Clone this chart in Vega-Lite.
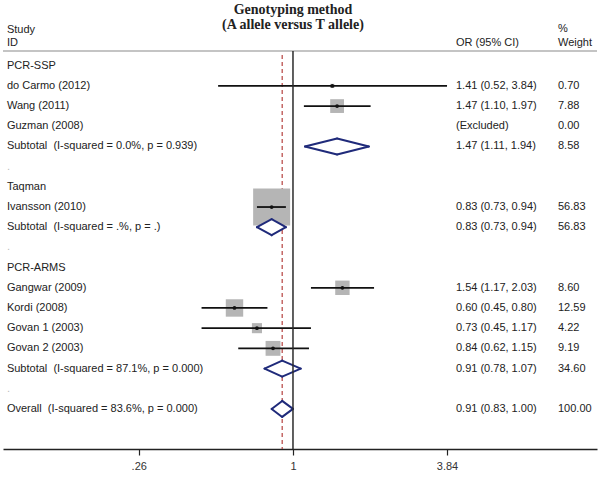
{
  "$schema": "https://vega.github.io/schema/vega-lite/v6.json",
  "width": 594,
  "height": 449,
  "autosize": {"type": "none"},
  "padding": {"left": 3, "right": 3, "top": 0, "bottom": 28},
  "background": "white",
  "config": {
    "view": {"stroke": null},
    "text": {"font": "Liberation Sans", "fontSize": 11, "color": "#222222"}
  },
  "datasets": {
    "rows": [
      {"row": 0, "label": "PCR-SSP", "type": "group"},
      {"row": 1, "label": "do Carmo (2012)", "type": "study", "or": 1.41, "lo": 0.52, "hi": 3.84, "w": 0.70, "ortext": "1.41 (0.52, 3.84)", "wtext": "0.70"},
      {"row": 2, "label": "Wang (2011)", "type": "study", "or": 1.47, "lo": 1.10, "hi": 1.97, "w": 7.88, "ortext": "1.47 (1.10, 1.97)", "wtext": "7.88"},
      {"row": 3, "label": "Guzman (2008)", "type": "excluded", "ortext": "(Excluded)", "wtext": "0.00"},
      {"row": 4, "label": "Subtotal\u00a0 (I-squared = 0.0%, p = 0.939)", "type": "subtotal", "or": 1.47, "lo": 1.11, "hi": 1.94, "w": 8.58, "ortext": "1.47 (1.11, 1.94)", "wtext": "8.58"},
      {"row": 5, "label": ".", "type": "dot"},
      {"row": 6, "label": "Taqman", "type": "group"},
      {"row": 7, "label": "Ivansson (2010)", "type": "study", "or": 0.83, "lo": 0.73, "hi": 0.94, "w": 56.83, "ortext": "0.83 (0.73, 0.94)", "wtext": "56.83"},
      {"row": 8, "label": "Subtotal\u00a0 (I-squared = .%, p = .)", "type": "subtotal", "or": 0.83, "lo": 0.73, "hi": 0.94, "w": 56.83, "ortext": "0.83 (0.73, 0.94)", "wtext": "56.83"},
      {"row": 9, "label": ".", "type": "dot"},
      {"row": 10, "label": "PCR-ARMS", "type": "group"},
      {"row": 11, "label": "Gangwar (2009)", "type": "study", "or": 1.54, "lo": 1.17, "hi": 2.03, "w": 8.60, "ortext": "1.54 (1.17, 2.03)", "wtext": "8.60"},
      {"row": 12, "label": "Kordi (2008)", "type": "study", "or": 0.60, "lo": 0.45, "hi": 0.80, "w": 12.59, "ortext": "0.60 (0.45, 0.80)", "wtext": "12.59"},
      {"row": 13, "label": "Govan 1 (2003)", "type": "study", "or": 0.73, "lo": 0.45, "hi": 1.17, "w": 4.22, "ortext": "0.73 (0.45, 1.17)", "wtext": "4.22"},
      {"row": 14, "label": "Govan 2 (2003)", "type": "study", "or": 0.84, "lo": 0.62, "hi": 1.15, "w": 9.19, "ortext": "0.84 (0.62, 1.15)", "wtext": "9.19"},
      {"row": 15, "label": "Subtotal\u00a0 (I-squared = 87.1%, p = 0.000)", "type": "subtotal", "or": 0.91, "lo": 0.78, "hi": 1.07, "w": 34.60, "ortext": "0.91 (0.78, 1.07)", "wtext": "34.60"},
      {"row": 16, "label": ".", "type": "dot"},
      {"row": 17, "label": "Overall\u00a0 (I-squared = 83.6%, p = 0.000)", "type": "overall", "or": 0.91, "lo": 0.83, "hi": 1.00, "w": 100.00, "ortext": "0.91 (0.83, 1.00)", "wtext": "100.00"}
    ]
  },
  "data": {"name": "rows"},
  "resolve": {"scale": {"size": "independent"}, "axis": {"x": "independent"}},
  "layer": [
    {
      "data": {"values": [{}]},
      "mark": {"type": "rule", "color": "#c4c4c4", "strokeWidth": 2},
      "encoding": {
        "y": {"datum": -0.728, "type": "quantitative", "scale": {"domain": [-3.254, 18.985], "reverse": true, "nice": false, "zero": false}, "axis": null}
      }
    },
    {
      "data": {"values": [{}]},
      "mark": {"type": "rule", "color": "#b5413f", "strokeWidth": 1.2, "strokeDash": [4, 3]},
      "encoding": {
        "x": {"datum": 0.91, "type": "quantitative", "scale": {"type": "log", "domain": [0.07944, 14.23], "nice": false}, "axis": null},
        "y": {"datum": -0.53, "type": "quantitative", "axis": null},
        "y2": {"datum": 18.985}
      }
    },
    {
      "transform": [{"filter": "datum.type == 'study'"}],
      "mark": {"type": "point", "shape": "square", "filled": true, "color": "#b5b5b5", "opacity": 1},
      "encoding": {
        "x": {"field": "or", "type": "quantitative", "axis": null},
        "y": {"field": "row", "type": "quantitative", "axis": null},
        "size": {"field": "w", "type": "quantitative", "scale": {"domain": [0, 56.83], "range": [0, 1369], "zero": true}, "legend": null}
      }
    },
    {
      "transform": [{"filter": "datum.type == 'study'"}],
      "mark": {"type": "rule", "color": "#111111", "strokeWidth": 1.8},
      "encoding": {
        "x": {"field": "lo", "type": "quantitative", "scale": {"type": "log", "domain": [0.07944, 14.23], "nice": false},
          "axis": {"values": [0.26, 1, 3.84], "labelExpr": "datum.value < 0.5 ? '.26' : (datum.value < 2 ? '1' : '3.84')", "title": null, "grid": false, "domainColor": "#222222", "domainWidth": 1.5, "tickColor": "#222222", "tickSize": 6, "tickWidth": 1.2, "labelFont": "Liberation Sans", "labelFontSize": 11, "labelColor": "#333333", "labelPadding": 5, "labelFlush": false, "labelOverlap": false}},
        "x2": {"field": "hi"},
        "y": {"field": "row", "type": "quantitative", "axis": null}
      }
    },
    {
      "transform": [{"filter": "datum.type == 'study'"}],
      "mark": {"type": "point", "shape": "circle", "filled": true, "color": "#111111", "opacity": 1, "size": 14},
      "encoding": {
        "x": {"field": "or", "type": "quantitative", "axis": null},
        "y": {"field": "row", "type": "quantitative", "axis": null}
      }
    },
    {
      "transform": [{"filter": "datum.type == 'subtotal' || datum.type == 'overall'"}, {"fold": ["lo", "or"], "as": ["kl", "v"]}],
      "mark": {"type": "trail", "color": "white"},
      "encoding": {
        "x": {"field": "v", "type": "quantitative", "axis": null},
        "y": {"field": "row", "type": "quantitative", "axis": null},
        "detail": {"field": "row"},
        "size": {"field": "kl", "type": "nominal", "scale": {"type": "point", "domain": ["lo", "or"], "range": [0, 16], "padding": 0}, "legend": null}
      }
    },
    {
      "transform": [{"filter": "datum.type == 'subtotal' || datum.type == 'overall'"}, {"fold": ["or", "hi"], "as": ["kr", "v"]}],
      "mark": {"type": "trail", "color": "white"},
      "encoding": {
        "x": {"field": "v", "type": "quantitative", "axis": null},
        "y": {"field": "row", "type": "quantitative", "axis": null},
        "detail": {"field": "row"},
        "size": {"field": "kr", "type": "nominal", "scale": {"type": "point", "domain": ["hi", "or"], "range": [0, 16], "padding": 0}, "legend": null}
      }
    },
    {
      "transform": [{"filter": "datum.type == 'subtotal' || datum.type == 'overall'"}],
      "mark": {"type": "rule", "color": "#1f2a7a", "strokeWidth": 2, "strokeCap": "round", "y2Offset": -8},
      "encoding": {
        "x": {"field": "lo", "type": "quantitative", "axis": null},
        "x2": {"field": "or"},
        "y": {"field": "row", "type": "quantitative", "axis": null},
        "y2": {"field": "row"}
      }
    },
    {
      "transform": [{"filter": "datum.type == 'subtotal' || datum.type == 'overall'"}],
      "mark": {"type": "rule", "color": "#1f2a7a", "strokeWidth": 2, "strokeCap": "round", "yOffset": -8},
      "encoding": {
        "x": {"field": "or", "type": "quantitative", "axis": null},
        "x2": {"field": "hi"},
        "y": {"field": "row", "type": "quantitative", "axis": null},
        "y2": {"field": "row"}
      }
    },
    {
      "transform": [{"filter": "datum.type == 'subtotal' || datum.type == 'overall'"}],
      "mark": {"type": "rule", "color": "#1f2a7a", "strokeWidth": 2, "strokeCap": "round", "y2Offset": 8},
      "encoding": {
        "x": {"field": "lo", "type": "quantitative", "axis": null},
        "x2": {"field": "or"},
        "y": {"field": "row", "type": "quantitative", "axis": null},
        "y2": {"field": "row"}
      }
    },
    {
      "transform": [{"filter": "datum.type == 'subtotal' || datum.type == 'overall'"}],
      "mark": {"type": "rule", "color": "#1f2a7a", "strokeWidth": 2, "strokeCap": "round", "yOffset": 8},
      "encoding": {
        "x": {"field": "or", "type": "quantitative", "axis": null},
        "x2": {"field": "hi"},
        "y": {"field": "row", "type": "quantitative", "axis": null},
        "y2": {"field": "row"}
      }
    },
    {
      "data": {"values": [{}]},
      "mark": {"type": "rule", "color": "#2b2b2b", "strokeWidth": 1.5},
      "encoding": {
        "x": {"datum": 1, "type": "quantitative", "axis": null},
        "y": {"datum": -0.728, "type": "quantitative", "axis": null},
        "y2": {"datum": 18.985}
      }
    },
    {
      "transform": [{"filter": "datum.type != 'dot'"}],
      "mark": {"type": "text", "align": "left", "baseline": "middle"},
      "encoding": {
        "x": {"datum": 0.0822, "type": "quantitative", "axis": null},
        "y": {"field": "row", "type": "quantitative", "axis": null},
        "text": {"field": "label"}
      }
    },
    {
      "transform": [{"filter": "datum.type == 'dot'"}],
      "mark": {"type": "text", "align": "left", "baseline": "middle", "color": "#bbbbbb"},
      "encoding": {
        "x": {"datum": 0.0822, "type": "quantitative", "axis": null},
        "y": {"field": "row", "type": "quantitative", "axis": null},
        "text": {"field": "label"}
      }
    },
    {
      "transform": [{"filter": "isValid(datum.ortext)"}],
      "mark": {"type": "text", "align": "left", "baseline": "middle"},
      "encoding": {
        "x": {"datum": 4.152, "type": "quantitative", "axis": null},
        "y": {"field": "row", "type": "quantitative", "axis": null},
        "text": {"field": "ortext"}
      }
    },
    {
      "transform": [{"filter": "isValid(datum.wtext)"}],
      "mark": {"type": "text", "align": "left", "baseline": "middle"},
      "encoding": {
        "x": {"datum": 10.12, "type": "quantitative", "axis": null},
        "y": {"field": "row", "type": "quantitative", "axis": null},
        "text": {"field": "wtext"}
      }
    },
    {
      "data": {"values": [{}]},
      "mark": {"type": "text", "align": "left", "baseline": "middle", "text": "Study"},
      "encoding": {
        "x": {"datum": 0.0822, "type": "quantitative", "axis": null},
        "y": {"datum": -1.768, "type": "quantitative", "axis": null}
      }
    },
    {
      "data": {"values": [{}]},
      "mark": {"type": "text", "align": "left", "baseline": "middle", "text": "ID"},
      "encoding": {
        "x": {"datum": 0.0822, "type": "quantitative", "axis": null},
        "y": {"datum": -1.124, "type": "quantitative", "axis": null}
      }
    },
    {
      "data": {"values": [{}]},
      "mark": {"type": "text", "align": "left", "baseline": "middle", "text": "OR (95% CI)"},
      "encoding": {
        "x": {"datum": 4.152, "type": "quantitative", "axis": null},
        "y": {"datum": -1.124, "type": "quantitative", "axis": null}
      }
    },
    {
      "data": {"values": [{}]},
      "mark": {"type": "text", "align": "left", "baseline": "middle", "text": "%"},
      "encoding": {
        "x": {"datum": 10.12, "type": "quantitative", "axis": null},
        "y": {"datum": -1.818, "type": "quantitative", "axis": null}
      }
    },
    {
      "data": {"values": [{}]},
      "mark": {"type": "text", "align": "left", "baseline": "middle", "text": "Weight"},
      "encoding": {
        "x": {"datum": 10.12, "type": "quantitative", "axis": null},
        "y": {"datum": -1.124, "type": "quantitative", "axis": null}
      }
    },
    {
      "data": {"values": [{}]},
      "mark": {"type": "text", "align": "center", "baseline": "middle", "text": "Genotyping method", "font": "Liberation Serif", "fontSize": 14, "fontWeight": "bold"},
      "encoding": {
        "x": {"datum": 1, "type": "quantitative", "axis": null},
        "y": {"datum": -2.759, "type": "quantitative", "axis": null}
      }
    },
    {
      "data": {"values": [{}]},
      "mark": {"type": "text", "align": "center", "baseline": "middle", "text": "(A allele versus T allele)", "font": "Liberation Serif", "fontSize": 14, "fontWeight": "bold"},
      "encoding": {
        "x": {"datum": 1, "type": "quantitative", "axis": null},
        "y": {"datum": -2.016, "type": "quantitative", "axis": null}
      }
    }
  ]
}
